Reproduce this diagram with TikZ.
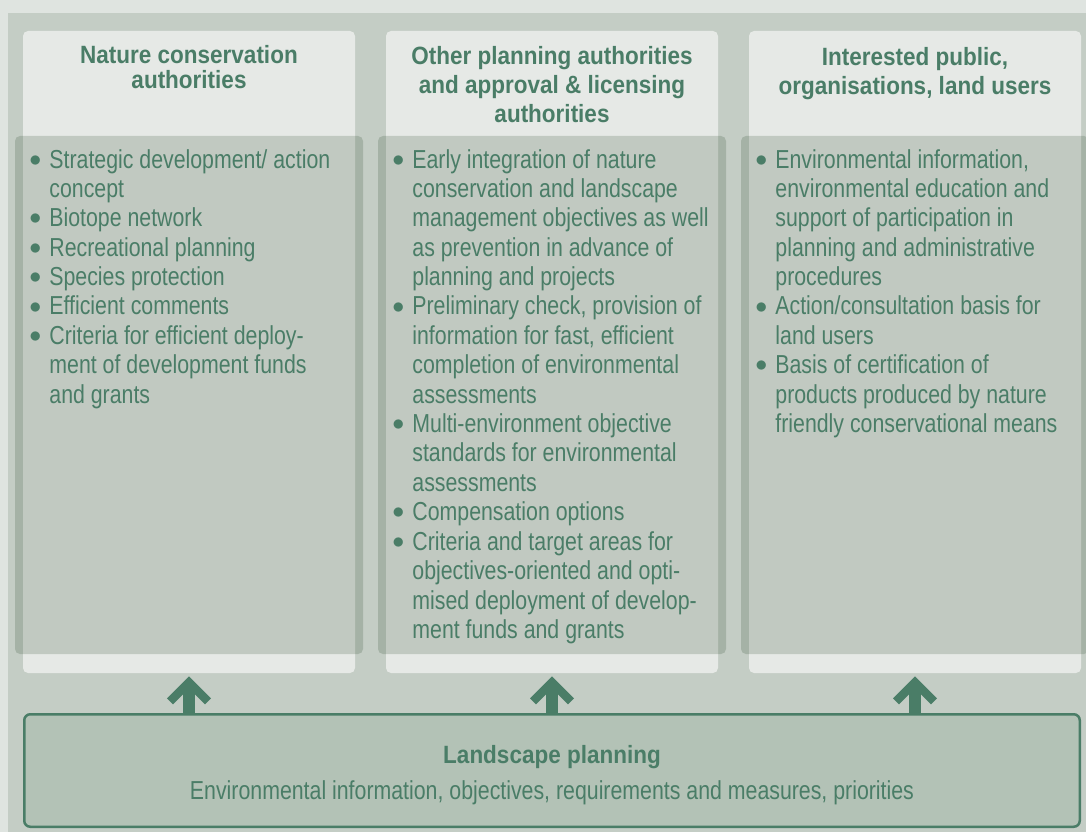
\documentclass[tikz,border=0pt]{standalone}
\usepackage{fontspec}
\setmainfont{Liberation Sans}[FakeStretch=0.82]
\newfontfamily\headfont{Liberation Sans}[FakeStretch=0.9]
\usetikzlibrary{arrows.meta}

\definecolor{outerbg}{HTML}{DFE4E0}
\definecolor{panel}{HTML}{C4CDC5}
\definecolor{palebox}{HTML}{E6E9E6}
\definecolor{listshade}{RGB}{45,73,45}
\definecolor{leaf}{HTML}{4A7D67}
\definecolor{planfill}{HTML}{B3C2B6}

\newcommand\dotitem{\raisebox{1pt}{$\bullet$}}

\tikzset{
  colbox/.style={fill=palebox, rounded corners=2.5pt, inner sep=0pt,
    minimum width=166pt, minimum height=321pt},
  listbox/.style={fill=listshade, fill opacity=0.2, rounded corners=2.5pt,
    inner sep=0pt, minimum width=174pt, minimum height=259pt},
  headtxt/.style={text=leaf, align=center, inner sep=0pt, anchor=base,
    font=\headfont\bfseries\fontsize{12.5}{14.5}\selectfont},
  listtxt/.style={text=leaf, inner sep=0pt, anchor=base west,
    font=\fontsize{13}{14.7}\selectfont},
  planbox/.style={draw=leaf, fill=planfill, line width=1.25pt,
    rounded corners=3pt, minimum width=527.75pt, minimum height=56.25pt},
  uparrow/.style={draw=leaf, line width=6pt,
    -{Straight Barb[length=9.5pt,width=19pt,line width=4.25pt]}}
}

\begin{document}
\begin{tikzpicture}[x=0.5pt,y=0.5pt]

  \useasboundingbox (0,0) rectangle (1086,832);
  \clip (0,0) rectangle (1086,832);
  \fill[outerbg] (0,0) rectangle (1086,832);
  \fill[panel] (8,0) rectangle (1086,819);

  % the three columns
  \foreach \n/\x in {nca/189,opa/552,pub/915}{
    \node[colbox] (\n) at (\x,480) {};
    \node[listbox] (\n-list) at (\x,437) {};
  }

  % base of a header = its last line
  \node[headtxt] (nca-head) at (189,743) {Nature conservation\\[-2pt]authorities};
  \node[headtxt] (opa-head) at (552,709) {Other planning authorities\\and approval \& licensing\\authorities};
  \node[headtxt] (pub-head) at (915,737) {Interested public,\\organisations, land users};

  \node[listtxt] (nca-items) at (29,664) {\begin{tabular}[t]{@{}c@{\hspace{4pt}}l@{}}
    \dotitem & Strategic development/ action\\
    & concept\\
    \dotitem & Biotope network\\
    \dotitem & Recreational planning\\
    \dotitem & Species protection\\
    \dotitem & Efficient comments\\
    \dotitem & Criteria for efficient deploy-\\
    & ment of development funds\\
    & and grants
  \end{tabular}};

  \node[listtxt] (opa-items) at (392,664) {\begin{tabular}[t]{@{}c@{\hspace{4pt}}l@{}}
    \dotitem & Early integration of nature\\
    & conservation and landscape\\
    & management objectives as well\\
    & as prevention in advance of\\
    & planning and projects\\
    \dotitem & Preliminary check, provision of\\
    & information for fast, efficient\\
    & completion of environmental\\
    & assessments\\
    \dotitem & Multi-environment objective\\
    & standards for environmental\\
    & assessments\\
    \dotitem & Compensation options\\
    \dotitem & Criteria and target areas for\\
    & objectives-oriented and opti-\\
    & mised deployment of develop-\\
    & ment funds and grants
  \end{tabular}};

  \node[listtxt] (pub-items) at (755,664) {\begin{tabular}[t]{@{}c@{\hspace{4pt}}l@{}}
    \dotitem & Environmental information,\\
    & environmental education and\\
    & support of participation in\\
    & planning and administrative\\
    & procedures\\
    \dotitem & Action/consultation basis for\\
    & land users\\
    \dotitem & Basis of certification of\\
    & products produced by nature\\
    & friendly conservational means
  \end{tabular}};

  % landscape planning at the bottom
  \node[planbox] (plan) at (552,61.5) {};
  \node[headtxt] (plan-head) at (552,69) {Landscape planning};
  \node[listtxt, anchor=base] (plan-text) at (552,33)
    {Environmental information, objectives, requirements and measures, priorities};

  \foreach \n in {nca,opa,pub}
    \draw[uparrow] (plan.north -| \n.south) -- ([yshift=-1.5pt]\n.south);

\end{tikzpicture}
\end{document}
